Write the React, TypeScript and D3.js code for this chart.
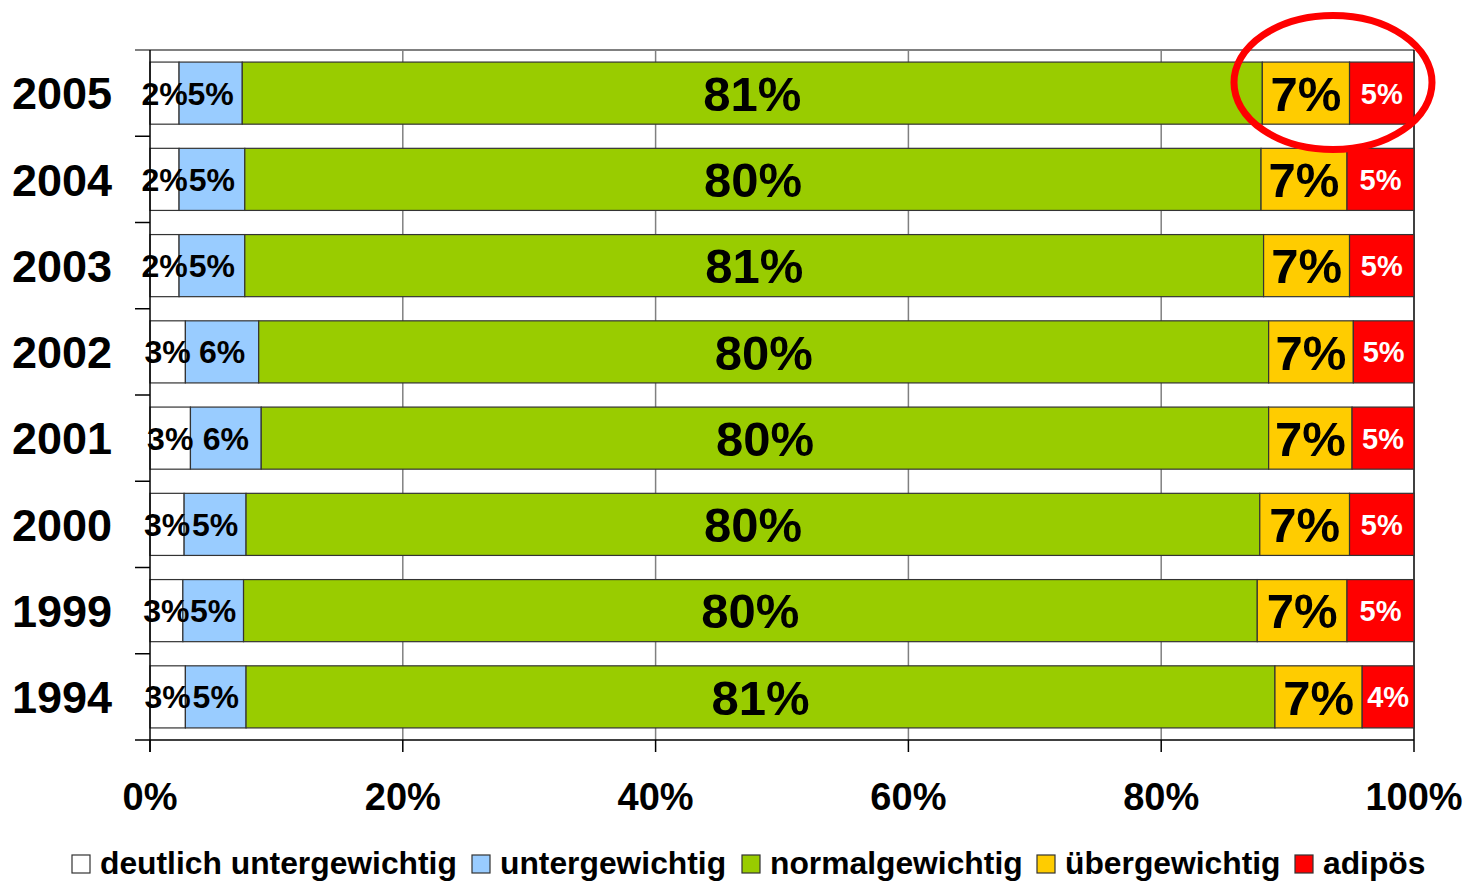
import React from "react";
import * as d3 from "d3";

const years = ["2005", "2004", "2003", "2002", "2001", "2000", "1999", "1994"];
const seriesKeys = ["deutlich", "unter", "normal", "ueber", "adipoes"];
const seriesNames = ["deutlich untergewichtig", "untergewichtig", "normalgewichtig", "übergewichtig", "adipös"];
const seriesColors = ["#FFFFFF", "#99CCFF", "#99CC00", "#FFCC00", "#FF0000"];
const labelColors = ["#000000", "#000000", "#000000", "#000000", "#FFFFFF"];
const labelSizes = [32, 32, 49, 49, 29];

const deutlichValues = [2.3, 2.3, 2.3, 2.8, 3.2, 2.7, 2.6, 2.8];
const unterValues = [5.0, 5.2, 5.2, 5.8, 5.6, 4.9, 4.8, 4.8];
const normalValues = [80.7, 80.4, 80.6, 79.9, 79.7, 80.2, 80.2, 81.4];
const ueberValues = [6.9, 6.8, 6.8, 6.7, 6.6, 7.1, 7.1, 6.9];
const adipoesValues = [5.1, 5.3, 5.1, 4.8, 4.9, 5.1, 5.3, 4.1];

const xTicks = [0, 20, 40, 60, 80, 100];

const FONT = "'Liberation Sans', Arial, Helvetica, sans-serif";

export default function App() {
  const W = 1468, H = 882;
  const left = 150, right = 1414, top = 50, bottom = 740;

  const rows = years.map((y, i) => ({
    year: y,
    deutlich: deutlichValues[i],
    unter: unterValues[i],
    normal: normalValues[i],
    ueber: ueberValues[i],
    adipoes: adipoesValues[i],
  }));

  const x = d3.scaleLinear().domain([0, 100]).range([left, right]);
  const y = d3.scaleBand<string>().domain(years).range([top, bottom]).paddingInner(0.28).paddingOuter(0.14);
  const stacked = d3.stack<any>().keys(seriesKeys)(rows);
  const step = y.step();

  const legendItems = [
    { sx: 72, tx: 100 },
    { sx: 472, tx: 500 },
    { sx: 742, tx: 770 },
    { sx: 1037, tx: 1065 },
    { sx: 1295, tx: 1323 },
  ];

  return (
    <svg width={W} height={H} style={{ position: "absolute", left: 0, top: 0, background: "#fff" }} fontFamily={FONT}>
      {/* top border */}
      <line x1={135} x2={right} y1={top} y2={top} stroke="#808080" strokeWidth={2} />
      {/* vertical grid lines */}
      {xTicks.slice(1, -1).map((t) => (
        <line key={"g" + t} x1={x(t)} x2={x(t)} y1={top} y2={bottom} stroke="#808080" strokeWidth={1.5} />
      ))}
      {/* right border */}
      <line x1={right} x2={right} y1={top} y2={bottom} stroke="#000" strokeWidth={1.5} />
      {/* bars */}
      {stacked.map((s, si) => (
        <g key={s.key}>
          {s.map((d, i) => (
            <rect
              key={i}
              x={x(d[0])}
              y={y(years[i])!}
              width={x(d[1]) - x(d[0])}
              height={y.bandwidth()}
              fill={seriesColors[si]}
              stroke="#333"
              strokeWidth={1.2}
            />
          ))}
        </g>
      ))}
      {/* labels */}
      {stacked.map((s, si) => (
        <g key={"l" + s.key}>
          {s.map((d, i) => (
            <text
              key={i}
              x={(x(d[0]) + x(d[1])) / 2}
              y={y(years[i])! + y.bandwidth() / 2}
              dy="0.36em"
              textAnchor="middle"
              fontWeight="bold"
              fontSize={labelSizes[si]}
              fill={labelColors[si]}
            >
              {Math.round(d[1] - d[0]) + "%"}
            </text>
          ))}
        </g>
      ))}
      {/* left axis */}
      <line x1={left} x2={left} y1={top} y2={752} stroke="#000" strokeWidth={1.5} />
      {years.slice(1).map((yr) => (
        <line key={"yt" + yr} x1={135} x2={left} y1={y(yr)! - (step - y.bandwidth()) / 2} y2={y(yr)! - (step - y.bandwidth()) / 2} stroke="#000" strokeWidth={1.5} />
      ))}
      {/* bottom axis */}
      <line x1={135} x2={right} y1={bottom} y2={bottom} stroke="#000" strokeWidth={1.5} />
      {xTicks.map((t) => (
        <line key={"xt" + t} x1={x(t)} x2={x(t)} y1={bottom} y2={752} stroke="#000" strokeWidth={1.5} />
      ))}
      {xTicks.map((t) => (
        <text key={"xl" + t} x={x(t)} y={810} textAnchor="middle" fontWeight="bold" fontSize={38}>
          {t + "%"}
        </text>
      ))}
      {/* year labels */}
      {years.map((yr) => (
        <text key={"yl" + yr} x={112} y={y(yr)! + y.bandwidth() / 2} dy="0.36em" textAnchor="end" fontWeight="bold" fontSize={45}>
          {yr}
        </text>
      ))}
      {/* legend */}
      {legendItems.map((li, i) => (
        <g key={"lg" + i}>
          <rect x={li.sx} y={855} width={18} height={18} fill={seriesColors[i]} stroke="#333" strokeWidth={1.2} />
          <text x={li.tx} y={874} fontWeight="bold" fontSize={31.8}>
            {seriesNames[i]}
          </text>
        </g>
      ))}
      {/* highlight ellipse */}
      <ellipse cx={1333} cy={82.5} rx={99} ry={67} fill="none" stroke="#FF0000" strokeWidth={7} />
    </svg>
  );
}
